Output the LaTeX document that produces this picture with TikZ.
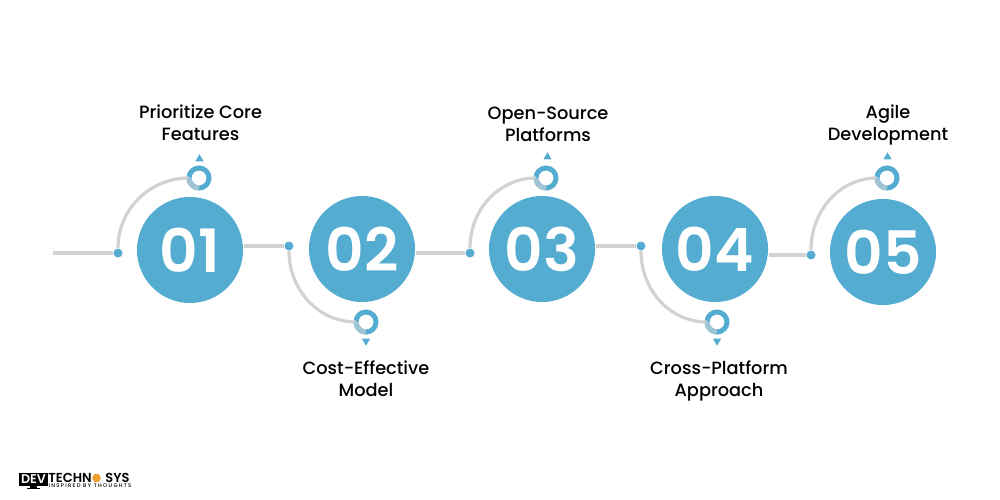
\documentclass[tikz,border=0pt]{standalone}
\usepackage{fontspec}
\setmainfont{Poppins}[UprightFont=* Medium, BoldFont=* SemiBold]
\usetikzlibrary{shapes.geometric}
\definecolor{stepblue}{HTML}{54ACD0}
\definecolor{trackgray}{HTML}{D2D2D2}
\definecolor{fadeblue}{HTML}{A0C4D4}
\definecolor{logoorange}{HTML}{F0A030}
\begin{document}
\begin{tikzpicture}[
    x=0.01cm, y=-0.01cm,
    stepnum/.style={circle, fill=stepblue, text=white, inner sep=0pt, minimum size=1.06cm, font=\fontsize{17}{17}\selectfont\bfseries},
    dot/.style={circle, fill=stepblue, inner sep=0pt, minimum size=0.09cm},
    ring/.style={circle, draw=stepblue, line width=0.05cm, fill=white, inner sep=0pt, outer sep=0pt, minimum size=0.2cm},
    tipup/.style={regular polygon, regular polygon sides=3, fill=stepblue, inner sep=0pt, minimum size=0.095cm},
    tipdown/.style={tipup, shape border rotate=180},
    track/.style={draw=trackgray, line width=0.032cm},
    fade/.style={draw=fadeblue, line width=0.05cm},
    label/.style={align=center, text=black, font=\fontsize{5.05}{6.25}\selectfont}
]

\useasboundingbox (0,0) rectangle (1000,500);

\node[stepnum] (C1) at (190,250) {01};
\node[stepnum] (C2) at (362,249) {02};
\node[stepnum] (C3) at (542,249) {03};
\node[stepnum] (C4) at (715,249) {04};
\node[stepnum] (C5) at (883,252) {05};

\coordinate (start) at (53,253);
\node[dot] (D1) at (118,253) {};
\node[dot] (D2) at (289,246) {};
\node[dot] (D3) at (470,253) {};
\node[dot] (D4) at (641,246) {};
\node[dot] (D5) at (811,255) {};

\node[ring] (R1) at (199,178) {};
\node[ring] (R2) at (366,322) {};
\node[ring] (R3) at (546,178) {};
\node[ring] (R4) at (717,322) {};
\node[ring] (R5) at (887,178) {};

\node[tipup] (T1) at (199.5,159) {};
\node[tipdown] (T2) at (366,341) {};
\node[tipup] (T3) at (547.5,157) {};
\node[tipdown] (T4) at (717,341) {};
\node[tipup] (T5) at (887.5,157) {};

\draw[track] (start) -- (D1);
\draw[track] (D2 -| C1.east) -- (D2);
\draw[track] (D3 -| C2.east) -- (D3);
\draw[track] (D4 -| C3.east) -- (D4);
\draw[track] (D5 -| C4.east) -- (D5);

\draw[track] (D1) to[out=90, in=180] (R1.west);
\draw[track] (D2) to[out=-90, in=180] (R2.west);
\draw[track] (D3) to[out=90, in=180] (R3.west);
\draw[track] (D4) to[out=-90, in=180] (R4.west);
\draw[track] (D5) to[out=90, in=180] (R5.west);

\draw[fade] (R1.west) arc[start angle=180, end angle=270, radius=0.1cm];
\draw[fade] (R2.west) arc[start angle=180, end angle=270, radius=0.1cm];
\draw[fade] (R3.west) arc[start angle=180, end angle=270, radius=0.1cm];
\draw[fade] (R4.west) arc[start angle=180, end angle=270, radius=0.1cm];
\draw[fade] (R5.west) arc[start angle=180, end angle=270, radius=0.1cm];

\node[label] (L1) at (200.5,123) {Prioritize Core\\Features};
\node[label] (L2) at (366,379) {Cost-Effective\\Model};
\node[label] (L3) at (548,124) {Open-Source\\Platforms};
\node[label] (L4) at (719,381) {Cross-Platform\\Approach};
\node[label] (L5) at (888,125) {Agile\\Development};

\fill[black] (19,473) rectangle (48,486);
\fill[black] (30,486) rectangle (37,488);
\fill[black] (27,488) rectangle (40,489);
\node[text=white, font=\fontsize{3.6}{3.6}\selectfont\bfseries, inner sep=0pt] (LD) at (33.5,479.5) {DEV};
\node[text=black, font=\fontsize{3.7}{3.7}\selectfont\bfseries, inner sep=0pt] (LT) at (70,478) {TECHN};
\node[regular polygon, regular polygon sides=6, fill=logoorange, inner sep=0pt, minimum size=0.09cm] (LH) at (96.5,478) {};
\node[text=black, font=\fontsize{3.7}{3.7}\selectfont\bfseries, inner sep=0pt] (LS) at (117.5,478) {SYS};
\node[text=black, font=\fontsize{1.5}{1.5}\selectfont\addfontfeature{LetterSpace=25}, inner sep=0pt] (LI) at (90,485.5) {INSPIRED BY THOUGHTS};

\end{tikzpicture}
\end{document}
